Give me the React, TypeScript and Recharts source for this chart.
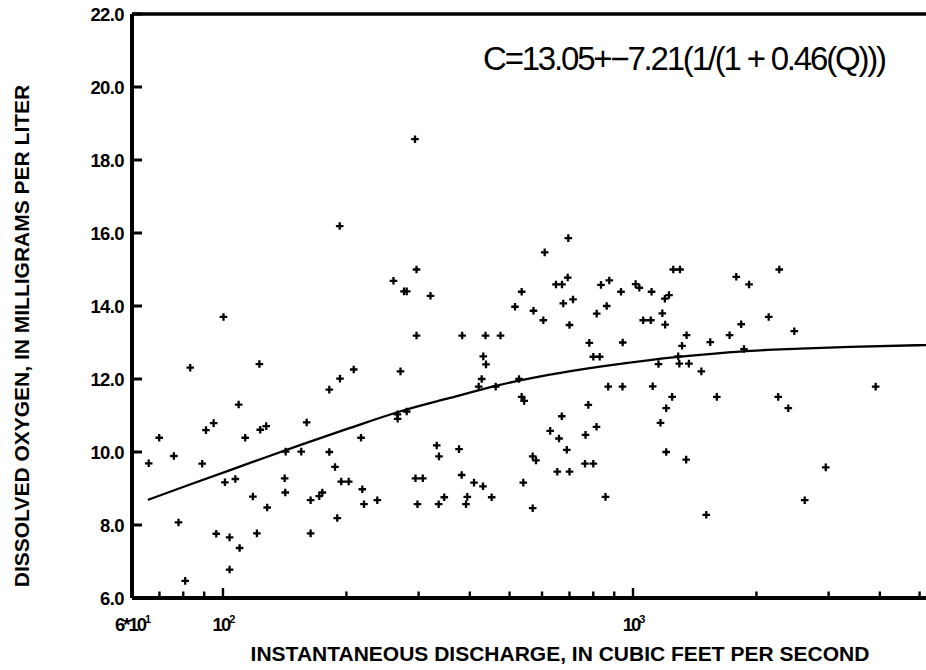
import React from "react";
import { ComposedChart, XAxis, YAxis, Scatter, Line, ReferenceLine } from "recharts";

// Instantaneous discharge (cfs) of each sample
const dischargeCfs = [
  65.9, 69.9, 75.9, 77.9, 80.9, 83.2, 89.0, 90.9, 94.9, 96.3,
  100.3, 101.1, 103.8, 103.8, 107.2, 109.2, 109.8, 113.3, 118.3, 121.0,
  122.7, 123.3, 127.5, 128.2, 142.2, 141.4, 141.9, 155.2, 160.0, 163.6,
  163.6, 171.7, 174.7, 181.7, 181.7, 187.6, 190.0, 192.6, 192.9, 194.3,
  202.6, 208.4, 217.1, 218.7, 220.8, 237.9, 260.5, 266.4, 266.7, 271.0,
  276.4, 280.6, 280.6, 294.0, 296.5, 296.5, 294.8, 307.1, 298.1, 320.7,
  332.1, 336.4, 335.8, 346.5, 376.4, 382.1, 383.2, 391.5, 394.3, 409.5,
  420.4, 427.6, 430.7, 431.4, 436.8, 438.0, 452.2, 462.5, 475.2, 515.5,
  527.2, 535.2, 535.2, 542.8, 540.1, 569.3, 580.0, 569.3, 571.9, 604.3,
  609.0, 628.1, 648.9, 671.2, 653.7, 660.0, 670.4, 676.1, 689.5, 693.0,
  695.4, 700.1, 700.1, 714.0, 763.7, 800.2, 765.9, 778.1, 782.4, 800.2,
  829.4, 815.6, 814.7, 835.5, 856.9, 862.7, 870.0, 875.4, 934.9, 942.8,
  943.8, 1015, 1036, 1059, 1105, 1110, 1117, 1154, 1167, 1179,
  1198, 1196, 1224, 1205, 1205, 1246, 1254, 1302, 1289, 1297,
  1369, 1317, 1351, 1348, 1468, 1509, 1543, 1601, 1720, 1786,
  1836, 1865, 1919, 2143, 2260, 2274, 2392, 2474, 2623, 2952,
  3907,
];

// Dissolved oxygen (mg/L) of each sample
const oxygenMgL = [
  9.69, 10.39, 9.89, 8.07, 6.47, 12.31, 9.68, 10.60, 10.79, 7.76,
  13.70, 9.17, 7.66, 6.78, 9.26, 11.30, 7.37, 10.39, 8.78, 7.77,
  12.41, 10.61, 10.71, 8.48, 10.01, 9.28, 8.89, 10.01, 10.81, 8.68,
  7.77, 8.79, 8.89, 11.71, 10.00, 9.59, 8.19, 16.19, 12.01, 9.19,
  9.19, 12.26, 10.39, 8.98, 8.57, 8.68, 14.69, 11.03, 10.91, 12.21,
  14.40, 14.40, 11.11, 18.57, 15.00, 13.19, 9.28, 9.28, 8.57, 14.28,
  10.18, 9.88, 8.57, 8.76, 10.08, 9.37, 13.19, 8.57, 8.77, 9.16,
  11.79, 12.00, 9.06, 12.62, 13.19, 12.40, 8.76, 11.79, 13.19, 13.98,
  12.00, 14.39, 11.51, 11.40, 9.16, 9.88, 9.77, 8.46, 13.87, 13.61,
  15.47, 10.58, 14.59, 14.59, 9.46, 10.37, 10.98, 14.07, 10.06, 14.78,
  15.86, 13.48, 9.46, 14.18, 9.68, 9.68, 10.47, 11.29, 12.99, 12.61,
  12.61, 13.79, 10.69, 14.58, 8.77, 14.00, 11.79, 14.70, 14.39, 11.79,
  13.00, 14.60, 14.50, 13.61, 13.61, 14.39, 11.80, 12.41, 10.80, 13.80,
  13.49, 14.20, 14.30, 11.20, 10.00, 11.51, 15.00, 15.00, 12.62, 12.42,
  12.42, 12.91, 13.20, 9.79, 12.21, 8.28, 13.01, 11.51, 13.20, 14.80,
  13.50, 12.82, 14.59, 13.70, 11.51, 15.00, 11.20, 13.31, 8.68, 9.58,
  11.79,
];

// Fitted curve
const curveQ = [65.6, 83.1, 116.4, 154.1, 204.1, 270.2, 357.8, 473.8, 627.4, 830.9, 1100, 1457, 1929, 2555, 3383, 5183];
const curveC = [8.69, 9.11, 9.70, 10.19, 10.66, 11.11, 11.48, 11.84, 12.12, 12.34, 12.52, 12.66, 12.77, 12.83, 12.88, 12.93];

// Axes
const xDomain = [60, 5183];
const xTicks = [60, 70, 80, 90, 100, 200, 300, 400, 500, 600, 700, 800, 900, 1000, 2000, 3000, 4000, 5000];
const xMajorLabels: Record<number, [string, string]> = { 60: ["6*10", "1"], 100: ["10", "2"], 1000: ["10", "3"] };
const yTicks = [6, 8, 10, 12, 14, 16, 18, 20, 22];

const equationText = "C=13.05+\u22127.21(1/(1 + 0.46(Q)))";
const xTitle = "INSTANTANEOUS DISCHARGE, IN CUBIC FEET PER SECOND";
const yTitle = "DISSOLVED OXYGEN, IN MILLIGRAMS PER LITER";

const points = dischargeCfs.map((q, i) => ({ q, c: oxygenMgL[i] }));
const curve = curveQ.map((q, i) => ({ q, c: curveC[i] }));

const FONT = '"Liberation Sans", Arial, Helvetica, sans-serif';

const Plus = (props: any) => {
  const { cx, cy } = props;
  if (cx == null || cy == null) return null;
  return <path d={`M${cx - 3.8},${cy}H${cx + 3.8}M${cx},${cy - 3.8}V${cy + 3.8}`} stroke="#000" strokeWidth={2.3} fill="none" />;
};

const YTick = (props: any) => {
  const { x, y, payload } = props;
  const v = payload.value as number;
  return (
    <g>
      <path d={`M${x},${y}H${x + 10}`} stroke="#000" strokeWidth={3} fill="none" />
      <text x={x - 8} y={y + 6.5} textAnchor="end" fontFamily={FONT} fontWeight="bold" fontSize={18.5} letterSpacing={-0.6} fill="#000">
        {v.toFixed(1)}
      </text>
    </g>
  );
};

const XTick = (props: any) => {
  const { x, y, payload } = props;
  const v = payload.value as number;
  const lab = xMajorLabels[v];
  const major = v === 100 || v === 1000;
  return (
    <g>
      <path d={`M${x},${y}V${y - (major ? 10 : 6.5)}`} stroke="#000" strokeWidth={2.4} fill="none" />
      {lab && (
        <text x={x} y={y + 33} textAnchor="middle" fontFamily={FONT} fontWeight="bold" fontSize={18.5} letterSpacing={-2} fill="#000">
          {lab[0]}
          <tspan fontSize={11} dy={-8}>{lab[1]}</tspan>
        </text>
      )}
    </g>
  );
};

export default function App() {
  return (
    <div style={{ position: "absolute", left: 0, top: 0, width: 926, height: 670, background: "#fff" }}>
      <ComposedChart width={926} height={670} margin={{ top: 14, right: 0, bottom: 42, left: 72 }}>
        <XAxis
          dataKey="q"
          type="number"
          scale="log"
          domain={xDomain}
          allowDataOverflow
          ticks={xTicks}
          interval={0}
          height={30}
          tickSize={0}
          tickMargin={0}
          tick={<XTick />}
          axisLine={{ stroke: "#000", strokeWidth: 4 }}
          tickLine={false}
        />
        <YAxis
          dataKey="c"
          type="number"
          domain={[6, 22]}
          ticks={yTicks}
          interval={0}
          width={60}
          tickSize={0}
          tickMargin={0}
          tick={<YTick />}
          axisLine={{ stroke: "#000", strokeWidth: 4 }}
          tickLine={false}
        />
        <ReferenceLine y={22} stroke="#000" strokeWidth={3.5} />
        <Line data={curve} dataKey="c" type="monotone" stroke="#000" strokeWidth={2.3} dot={false} isAnimationActive={false} />
        <Scatter data={points} dataKey="c" shape={<Plus />} isAnimationActive={false} />
      </ComposedChart>
      <svg width={926} height={670} style={{ position: "absolute", left: 0, top: 0, pointerEvents: "none" }}>
        <text x={483} y={70} fontFamily={FONT} fontSize={33} letterSpacing={-2.2} fill="#000">{equationText}</text>
        <text x={560} y={661} textAnchor="middle" fontFamily={FONT} fontWeight="bold" fontSize={21} fill="#000">{xTitle}</text>
        <text transform="translate(29,336) rotate(-90)" textAnchor="middle" fontFamily={FONT} fontWeight="bold" fontSize={21} fill="#000">{yTitle}</text>
      </svg>
    </div>
  );
}
